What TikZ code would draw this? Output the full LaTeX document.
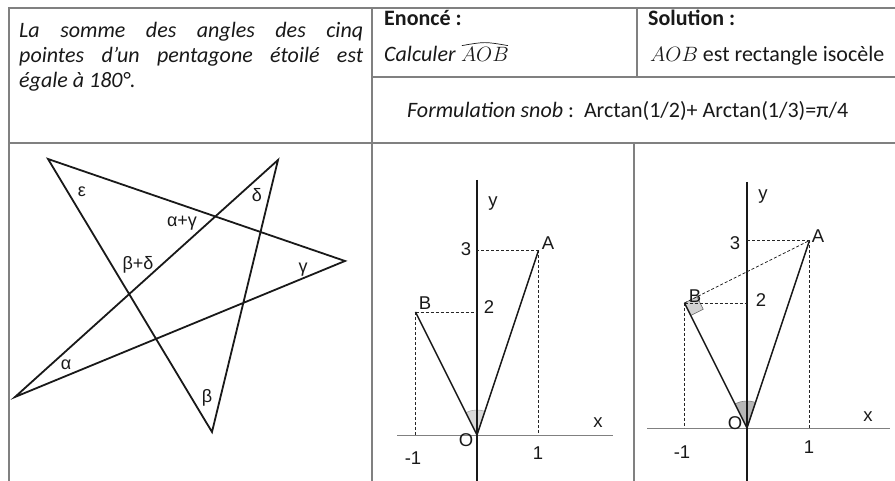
\documentclass[tikz,border=0pt]{standalone}
\usepackage{fontspec}
\setmainfont{Carlito}
\newfontfamily\lab{Liberation Sans}
\usetikzlibrary{calc}
\begin{document}
\begin{tikzpicture}[x=1pt,y=1pt,
  gridln/.style={draw=black!50, line width=1.3pt},
  starln/.style={line width=1.8pt, line join=miter, draw=black!90},
  segln/.style={line width=1.5pt, draw=black!90},
  axisy/.style={line width=1.7pt, draw=black!90},
  axisx/.style={line width=0.8pt, draw=black!50},
  dashln/.style={line width=0.8pt, draw=black!85, dash pattern=on 3pt off 2pt},
  lbl/.style={font=\lab\fontsize{18.5}{21}\selectfont, inner sep=0pt, text=black!90},
  slbl/.style={font=\lab\fontsize{18}{21}\selectfont, inner sep=0pt, text=black!90},
  txt/.style={font=\fontsize{22}{26}\selectfont, inner sep=0pt, anchor=base west, text=black!90}]
\useasboundingbox (0,0) rectangle (895,481);

% ---- table grid ----
\draw[gridln] (9,0) -- (9,473) -- (895,473);
\draw[gridln] (372,0) -- (372,473);
\draw[gridln] (9,338) -- (895,338);
\draw[gridln] (372,404) -- (895,404);
\draw[gridln] (637,404) -- (637,473);
\draw[gridln] (634,0) -- (634,338);

% ---- texts ----
\node[txt] (l1) at (19,443) {\itshape\makebox[344pt][s]{La somme des angles des cinq}};
\node[txt] (l2) at (19,418) {\itshape\makebox[344pt][s]{pointes d’un pentagone étoilé est}};
\node[txt] (l3) at (19,393) {\itshape égale à 180°.};
\node[txt] (en) at (384,455) {\bfseries Enoncé :};
\node[txt] (cal) at (384,419) {\itshape Calculer};
\node[txt, anchor=base west] (aob) at ([xshift=5pt]cal.base east) {$AOB$};
\draw[line width=0.7pt, draw=black!90] ([xshift=1pt,yshift=2pt]aob.north west) .. controls ([yshift=6pt]aob.north) .. ([xshift=-1pt,yshift=2pt]aob.north east);
\node[txt] (so) at (648,455) {\bfseries Solution :};
\node[txt] (sol) at (650,419) {$AOB$ est rectangle isocèle};
\node[txt] (fo) at (407,363) {\itshape Formulation snob\upshape\ :\ \ Arctan(1/2)+ Arctan(1/3)=π/4};

% ---- star ----
\coordinate (TL) at (48,322);
\coordinate (TR) at (278,321);
\coordinate (R) at (345,220);
\coordinate (BL) at (15,84);
\coordinate (BT) at (212,49);
\draw[starln] (TL) -- (R) -- (BL) -- (TR) -- (BT) -- cycle;
\node[slbl] (eps) at (82,289) {ε};
\node[slbl] (del) at (257,286) {δ};
\node[slbl] (ag) at (182,258) {α+γ};
\node[slbl] (bd) at (138,216) {β+δ};
\node[slbl] (gam) at (303,211) {γ};
\node[slbl] (alp) at (66,116) {α};
\node[slbl] (bet) at (207,83) {β};

% ---- graph 1 ----
\coordinate (O1) at (477,46);
\coordinate (A1) at (538.5,230.5);
\coordinate (B1) at (415.5,169);
\coordinate (Y1t) at (477,301);
\coordinate (Y1b) at (477,0);
\coordinate (X1l) at (397,46);
\coordinate (X1r) at (613,46);
\fill[black!15] (O1) -- ++(71.57:25) arc[start angle=71.57,end angle=116.57,radius=25] -- cycle;
\draw[black!35, line width=0.6pt] ($(O1)+(71.57:25)$) arc[start angle=71.57,end angle=116.57,radius=25];
\draw[axisx] (X1l) -- (X1r);
\draw[axisy] (Y1t) -- (Y1b);
\draw[dashln] (A1) -- (A1 -| O1);
\draw[dashln] (A1) -- (A1 |- O1);
\draw[dashln] (B1) -- (B1 -| O1);
\draw[dashln] (B1) -- (B1 |- O1);
\draw[segln] (B1) -- (O1) -- (A1);
\node[lbl] (y1) at (493,277) {y};
\node[lbl] (a1) at (548,238) {A};
\node[lbl] (t1) at (466,232) {3};
\node[lbl] (b1) at (425,178) {B};
\node[lbl] (d1) at (489,174) {2};
\node[lbl] (x1) at (598,58) {x};
\node[lbl] (o1) at (466,41) {O};
\node[lbl] (m1) at (413,23) {-1};
\node[lbl] (u1) at (538,28) {1};

% ---- graph 2 ----
\coordinate (O2) at (747,53);
\coordinate (A2) at (809.5,240.5);
\coordinate (B2) at (684.5,178);
\coordinate (Y2t) at (747,299);
\coordinate (Y2b) at (747,0);
\coordinate (X2l) at (647,53);
\coordinate (X2r) at (890,53);
\coordinate (P2) at ($(B2)!14pt!(O2)$);
\coordinate (Q2) at ($(B2)!14pt!(A2)$);
\coordinate (S2) at ($(P2)+(Q2)-(B2)$);
\fill[black!28] (O2) -- ++(71.57:27) arc[start angle=71.57,end angle=116.57,radius=27] -- cycle;
\draw[black!50, line width=0.6pt] ($(O2)+(71.57:27)$) arc[start angle=71.57,end angle=116.57,radius=27];
\filldraw[fill=black!18, draw=black!60, line width=0.6pt] (B2) -- (P2) -- (S2) -- (Q2) -- cycle;
\draw[axisx] (X2l) -- (X2r);
\draw[axisy] (Y2t) -- (Y2b);
\draw[dashln] (A2) -- (A2 -| O2);
\draw[dashln] (A2) -- (A2 |- O2);
\draw[dashln] (B2) -- (B2 -| O2);
\draw[dashln] (B2) -- (B2 |- O2);
\draw[dashln] (B2) -- (A2);
\draw[segln] (B2) -- (O2) -- (A2);
\node[lbl] (y2) at (763,284) {y};
\node[lbl] (a2) at (818,245) {A};
\node[lbl] (t2) at (735,238) {3};
\node[lbl] (b2) at (695,185) {B};
\node[lbl] (d2) at (761,181) {2};
\node[lbl] (x2) at (868,64) {x};
\node[lbl] (o2) at (735,58) {O};
\node[lbl] (m2) at (682,29) {-1};
\node[lbl] (u2) at (809,34) {1};
\end{tikzpicture}
\end{document}
